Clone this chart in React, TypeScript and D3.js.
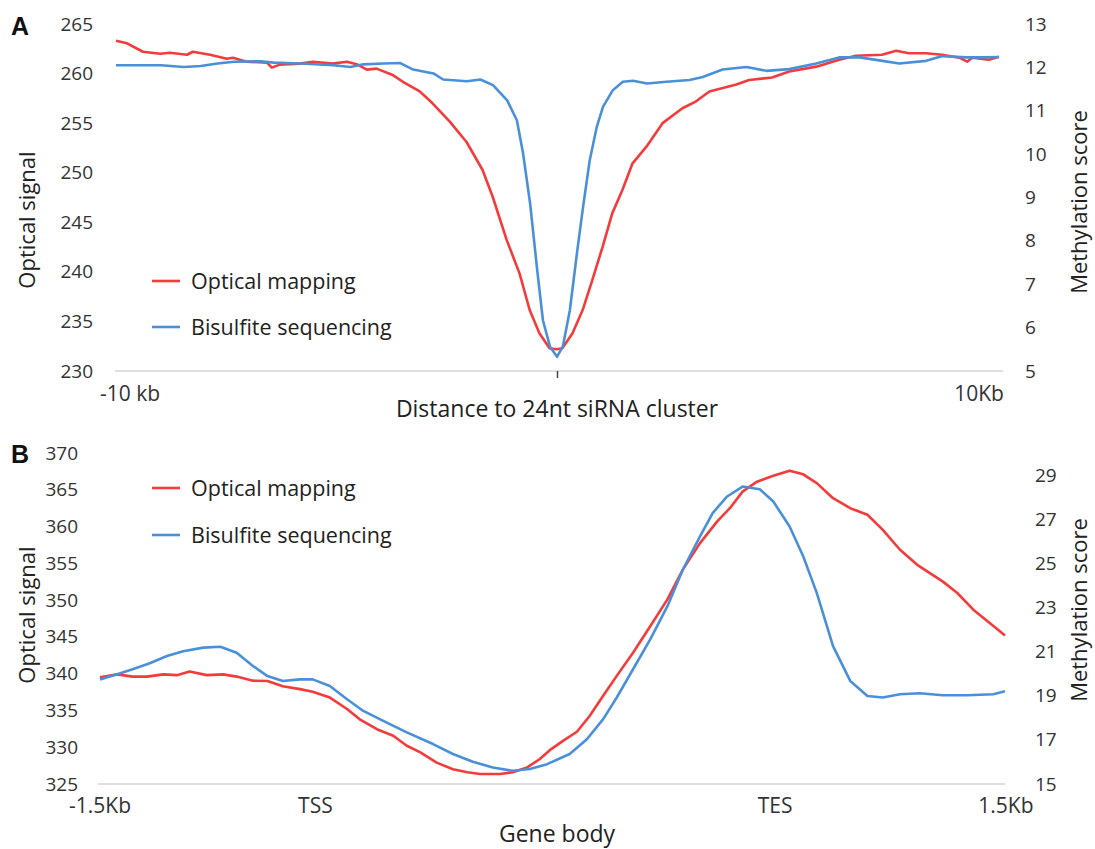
import React, { useEffect, useRef } from "react";
import * as d3 from "d3";

// ---- panel A : distance to 24nt siRNA cluster (kb) ----
const kbOpticalA = [
  -10, -9.75, -9.39, -9.0, -8.78, -8.39, -8.26, -7.87, -7.49, -7.35, -7.04, -6.58, -6.47, -6.29,
  -5.84, -5.54, -5.09, -4.77, -4.55, -4.32, -4.1, -3.73, -3.51, -3.12, -2.83, -2.44, -2.06, -1.7,
  -1.47, -1.15, -0.86, -0.63, -0.41, -0.18, -0.02, 0.11, 0.34, 0.57, 0.79, 1.02, 1.24, 1.47, 1.7,
  2.01, 2.38, 2.83, 3.14, 3.44, 4.05, 4.34, 4.86, 5.25, 5.86, 6.38, 6.76, 7.35, 7.67, 7.96, 8.35,
  8.71, 9.1, 9.28, 9.39, 9.77, 10,
];
const opticalA = [
  263.3, 263.05, 262.2, 262.0, 262.1, 261.9, 262.2, 261.9, 261.5, 261.6, 261.2, 261.1, 260.6, 260.9,
  261.0, 261.2, 261.0, 261.2, 260.95, 260.4, 260.5, 259.85, 259.2, 258.2, 257.0, 255.15, 253.1,
  250.3, 247.6, 243.2, 239.85, 236.15, 233.8, 232.3, 232.2, 232.3, 233.8, 236.15, 239.2, 242.5,
  245.9, 248.25, 250.95, 252.6, 255.0, 256.5, 257.2, 258.2, 258.9, 259.35, 259.6, 260.2, 260.7,
  261.4, 261.8, 261.9, 262.3, 262.05, 262.05, 261.9, 261.6, 261.2, 261.6, 261.4, 261.7,
];
const kbBisulfiteA = [
  -10, -9.59, -8.98, -8.46, -8.08, -7.7, -7.33, -6.72, -6.43, -5.82, -5.07, -4.69, -4.4, -3.94,
  -3.56, -3.27, -2.81, -2.59, -2.05, -1.75, -1.46, -1.14, -0.92, -0.78, -0.62, -0.46, -0.33, -0.17,
  -0.01, 0.12, 0.28, 0.44, 0.58, 0.73, 0.89, 1.03, 1.25, 1.48, 1.71, 2.03, 2.47, 2.99, 3.29, 3.74,
  4.28, 4.73, 5.25, 5.86, 6.38, 6.84, 7.36, 7.74, 8.35, 8.72, 9.26, 9.63, 10,
];
const bisulfiteA = [
  12.05, 12.05, 12.05, 12.01, 12.03, 12.09, 12.13, 12.14, 12.11, 12.09, 12.05, 12.01, 12.07, 12.09,
  12.1, 11.95, 11.86, 11.72, 11.68, 11.72, 11.59, 11.24, 10.78, 10.02, 8.86, 7.33, 6.17, 5.56,
  5.33, 5.56, 6.4, 7.71, 8.79, 9.86, 10.63, 11.09, 11.47, 11.67, 11.69, 11.63, 11.67, 11.71, 11.78,
  11.95, 12.01, 11.92, 11.96, 12.09, 12.23, 12.23, 12.15, 12.09, 12.15, 12.26, 12.23, 12.23, 12.24,
];

// ---- panel B : gene body (0 = -1.5Kb ... 100 = 1.5Kb) ----
const posOpticalB = [
  0, 1.9, 3.6, 5.2, 7.0, 8.5, 9.9, 11.8, 13.6, 15.1, 16.9, 18.5, 20.2, 22.1, 23.5, 25.4, 27.3, 28.7,
  30.6, 32.4, 33.9, 35.4, 37.2, 39.0, 40.6, 42.0, 44.2, 45.6, 47.2, 48.6, 49.7, 51.2, 52.7, 54.1,
  55.6, 57.1, 58.9, 60.8, 62.7, 64.4, 66.3, 68.2, 69.6, 71.0, 72.6, 74.4, 76.2, 77.7, 79.2, 81.0,
  82.9, 84.8, 86.5, 88.4, 90.3, 93.1, 94.7, 96.5, 99.4, 100,
];
const opticalB = [
  339.5, 339.9, 339.6, 339.6, 339.9, 339.8, 340.3, 339.8, 339.9, 339.6, 339.05, 339.0, 338.3, 337.9,
  337.55, 336.75, 335.2, 333.8, 332.45, 331.55, 330.2, 329.3, 327.9, 327.0, 326.6, 326.35, 326.35,
  326.6, 327.25, 328.4, 329.6, 330.9, 332.1, 334.25, 337.0, 339.7, 342.85, 346.45, 350.1, 354.15,
  357.75, 360.7, 362.5, 364.75, 366.1, 366.9, 367.6, 367.1, 365.9, 363.85, 362.5, 361.6, 359.55,
  356.85, 354.8, 352.55, 351.0, 348.7, 345.8, 345.2,
];
const posBisulfiteB = [
  0, 1.9, 3.6, 5.5, 7.4, 9.2, 11.4, 13.3, 15.1, 16.9, 18.5, 20.2, 22.1, 23.5, 25.4, 27.3, 29.1, 31.3,
  33.9, 36.8, 39.0, 41.2, 43.4, 45.6, 47.5, 49.4, 51.9, 53.8, 55.6, 57.1, 58.9, 60.8, 62.7, 64.4,
  66.3, 67.7, 69.3, 71.0, 72.9, 74.4, 76.2, 77.7, 79.2, 81.0, 82.9, 84.8, 86.5, 88.4, 90.6, 93.1,
  95.8, 98.7, 100,
];
const bisulfiteB = [
  19.74, 19.97, 20.2, 20.47, 20.8, 21.02, 21.18, 21.22, 20.95, 20.35, 19.89, 19.67, 19.74, 19.74,
  19.44, 18.84, 18.31, 17.86, 17.34, 16.81, 16.36, 16.01, 15.75, 15.6, 15.68, 15.9, 16.36, 17.03,
  17.94, 18.92, 20.2, 21.55, 23.06, 24.71, 26.22, 27.28, 28.03, 28.48, 28.36, 27.8, 26.67, 25.32,
  23.66, 21.25, 19.67, 18.99, 18.92, 19.07, 19.11, 19.02, 19.02, 19.07, 19.2,
];

// ---- axis labels ----
const ticksLeftA = [230, 235, 240, 245, 250, 255, 260, 265];
const ticksRightA = [5, 6, 7, 8, 9, 10, 11, 12, 13];
const xLabelsA = ["-10 kb", "10Kb"];
const xLabelPosA = [-9.68, 9.55];
const ticksLeftB = [325, 330, 335, 340, 345, 350, 355, 360, 365, 370];
const ticksRightB = [15, 17, 19, 21, 23, 25, 27, 29];
const xLabelsB = ["-1.5Kb", "TSS", "TES", "1.5Kb"];
const xLabelPosB = [0, 23.8, 74.6, 100.1];
const seriesNames = ["Optical mapping", "Bisulfite sequencing"];

const RED = "#f43b3b";
const BLUE = "#4a90d9";
const FONT = "'Open Sans', sans-serif";

const App = () => {
  const svgRef = useRef(null);

  useEffect(() => {
    const svg = d3.select(svgRef.current);
    svg.selectAll("*").remove();

    const drawPanel = (p: any) => {
      const g = svg.append("g");

      // panel letter
      g.append("text")
        .attr("x", 11)
        .attr("y", p.letterY)
        .attr("font-family", "'Liberation Sans', Arial, sans-serif")
        .attr("font-weight", "bold")
        .attr("font-size", 25)
        .attr("fill", "#111")
        .text(p.letter);

      // baseline
      g.append("line")
        .attr("x1", p.axisX0)
        .attr("x2", p.axisX1)
        .attr("y1", p.yL.range()[0])
        .attr("y2", p.yL.range()[0])
        .attr("stroke", "#d4d4d4")
        .attr("stroke-width", 1.5);

      const left = g
        .append("g")
        .attr("transform", `translate(${p.leftX},0)`)
        .call(d3.axisLeft(p.yL).tickValues(p.ticksL).tickSize(0).tickPadding(0));
      const right = g
        .append("g")
        .attr("transform", `translate(${p.rightX},0)`)
        .call(d3.axisRight(p.yR).tickValues(p.ticksR).tickSize(0).tickPadding(0));
      [left, right].forEach((a) => {
        a.select(".domain").remove();
        a.selectAll("text")
          .attr("font-family", FONT)
          .attr("font-size", 19)
          .attr("fill", "#333");
      });

      // x labels
      g.selectAll(".xlab")
        .data(p.xLabels)
        .join("text")
        .attr("x", (d, i) => p.x(p.xPos[i]))
        .attr("y", p.xLabelY)
        .attr("text-anchor", "middle")
        .attr("font-family", FONT)
        .attr("font-size", 21)
        .attr("fill", "#333")
        .text((d) => d);

      if (p.centerTick !== undefined) {
        g.append("line")
          .attr("x1", p.x(p.centerTick))
          .attr("x2", p.x(p.centerTick))
          .attr("y1", p.yL.range()[0])
          .attr("y2", p.yL.range()[0] + 7)
          .attr("stroke", "#444")
          .attr("stroke-width", 1.5);
      }

      // titles
      g.append("text")
        .attr("x", 557)
        .attr("y", p.xTitleY)
        .attr("text-anchor", "middle")
        .attr("font-family", FONT)
        .attr("font-size", 23)
        .attr("fill", "#222")
        .text(p.xTitle);
      g.append("text")
        .attr("transform", `translate(35,${p.leftTitleY}) rotate(-90)`)
        .attr("text-anchor", "middle")
        .attr("font-family", FONT)
        .attr("font-size", 22)
        .attr("fill", "#222")
        .text("Optical signal");
      g.append("text")
        .attr("transform", `translate(1087,${p.rightTitleY}) rotate(-90)`)
        .attr("text-anchor", "middle")
        .attr("font-family", FONT)
        .attr("font-size", 22)
        .attr("fill", "#222")
        .text("Methylation score");

      // series
      const optLine = d3
        .line<number>()
        .x((d, i) => p.x(p.optX[i]))
        .y((d) => p.yL(d));
      const bisLine = d3
        .line<number>()
        .x((d, i) => p.x(p.bisX[i]))
        .y((d) => p.yR(d));
      g.append("path")
        .attr("d", optLine(p.optY))
        .attr("fill", "none")
        .attr("stroke", RED)
        .attr("stroke-width", 2.6)
        .attr("stroke-linejoin", "round");
      g.append("path")
        .attr("d", bisLine(p.bisY))
        .attr("fill", "none")
        .attr("stroke", BLUE)
        .attr("stroke-width", 2.6)
        .attr("stroke-linejoin", "round");

      // legend
      const leg = g
        .selectAll(".leg")
        .data(seriesNames)
        .join("g")
        .attr("transform", (d, i) => `translate(0,${p.legendY[i]})`);
      leg
        .append("line")
        .attr("x1", 152)
        .attr("x2", 180)
        .attr("stroke", (d, i) => (i === 0 ? RED : BLUE))
        .attr("stroke-width", 2.6);
      leg
        .append("text")
        .attr("x", 191)
        .attr("dy", "0.35em")
        .attr("font-family", FONT)
        .attr("font-size", 21.5)
        .attr("fill", "#222")
        .text((d) => d);
    };

    drawPanel({
      letter: "A",
      letterY: 35,
      x: d3.scaleLinear().domain([-10, 10]).range([116, 999]),
      yL: d3.scaleLinear().domain([230, 265]).range([371, 24]),
      yR: d3.scaleLinear().domain([5, 13]).range([371, 24]),
      ticksL: ticksLeftA,
      ticksR: ticksRightA,
      axisX0: 115,
      axisX1: 1003,
      leftX: 93,
      rightX: 1025,
      xLabels: xLabelsA,
      xPos: xLabelPosA,
      xLabelY: 401,
      centerTick: 0,
      xTitle: "Distance to 24nt siRNA cluster",
      xTitleY: 417,
      leftTitleY: 220,
      rightTitleY: 202,
      optX: kbOpticalA,
      optY: opticalA,
      bisX: kbBisulfiteA,
      bisY: bisulfiteA,
      legendY: [281, 327],
    });

    drawPanel({
      letter: "B",
      letterY: 463,
      x: d3.scaleLinear().domain([0, 100]).range([100, 1005]),
      yL: d3.scaleLinear().domain([325, 370]).range([784, 453]),
      yR: d3.scaleLinear().domain([15, 30]).range([784, 453]),
      ticksL: ticksLeftB,
      ticksR: ticksRightB,
      axisX0: 98,
      axisX1: 1005,
      leftX: 78,
      rightX: 1035,
      xLabels: xLabelsB,
      xPos: xLabelPosB,
      xLabelY: 813,
      centerTick: undefined,
      xTitle: "Gene body",
      xTitleY: 842,
      leftTitleY: 615,
      rightTitleY: 610,
      optX: posOpticalB,
      optY: opticalB,
      bisX: posBisulfiteB,
      bisY: bisulfiteB,
      legendY: [488, 535],
    });
  }, []);

  return (
    <svg
      ref={svgRef}
      width={1095}
      height={849}
      style={{ position: "absolute", left: 0, top: 0, background: "#fff" }}
    ></svg>
  );
};

export default App;
